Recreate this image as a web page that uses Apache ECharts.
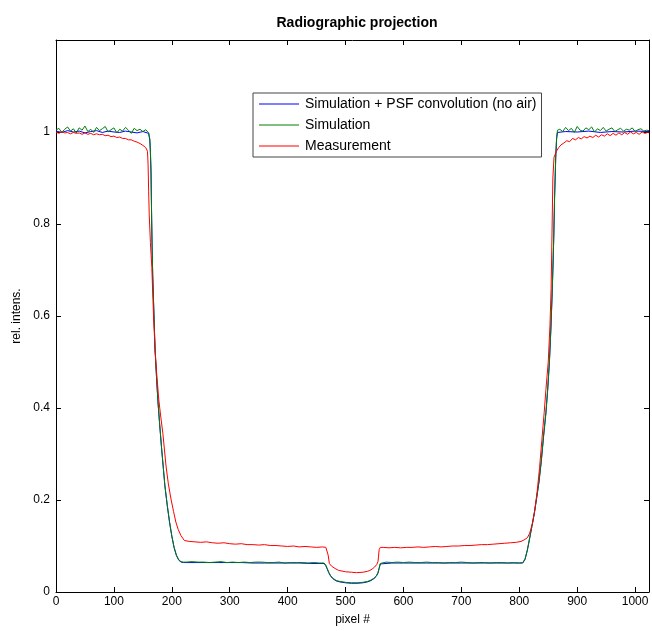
<!DOCTYPE html>
<html>
<head>
<meta charset="utf-8">
<script src="https://cdn.jsdelivr.net/npm/echarts@6/dist/echarts.min.js"></script>
<style>
html,body{margin:0;padding:0;background:#fff;}
#chart{width:652px;height:631px;}
</style>
</head>
<body>
<div id="chart"></div>
<script>
const titleText = "Radiographic projection";
const xName = "pixel #";
const yName = "rel. intens.";
const seriesNames = ["Simulation + PSF convolution (no air)", "Simulation", "Measurement"];
const seriesColors = ["#0000ff", "#008000", "#ff0000"];
const xTicks = [0,100,200,300,400,500,600,700,800,900,1000];
const yTicks = [0,0.2,0.4,0.6,0.8,1];

// Simulation (green)
const greenX = [0,5,10,15,20,25,30,35,40,45,50,55,60,65,70,75,80,85,90,95,100,105,110,115,120,125,130,135,140,145,150,155,160,
  162,163,164,165,166,167,168.5,171,173.5,176,179,182,185,188,192,196,200,204,208,212,216,220,
  225,235,245,255,265,275,285,295,305,315,325,335,345,355,365,375,385,395,405,415,425,435,445,455,463,
  466,468,471,474,478,484,490,500,510,520,530,538,544,549,553,556,558,560,563,
  570,580,590,600,610,620,630,640,650,660,670,680,690,700,710,720,730,740,750,760,770,780,790,800,806,
  810,814,818,822,826,830,834,838,842,846,849,852,854.5,856.5,858,859.5,861,863,864.5,
  866,870,875,880,885,890,895,900,905,910,915,920,925,930,935,940,945,950,955,960,965,970,975,980,985,990,995,1000,1005,1010,1015,1020,1024];
const greenY = [1.004,1.008,0.999,1.006,1.011,1.002,1.007,0.998,1.009,1.004,1.013,1.001,1.006,0.999,1.010,1.003,1.007,1.012,1.000,1.005,1.009,0.998,1.006,1.002,1.010,1.004,0.997,1.008,1.003,1.006,1.001,1.005,0.998,
  0.985,0.960,0.920,0.830,0.750,0.690,0.630,0.530,0.470,0.415,0.365,0.318,0.275,0.232,0.190,0.153,0.122,0.097,0.080,0.070,0.066,0.065,
  0.065,0.066,0.065,0.065,0.064,0.065,0.066,0.064,0.065,0.064,0.065,0.064,0.065,0.065,0.064,0.064,0.065,0.063,0.064,0.064,0.064,0.063,0.064,0.063,0.063,
  0.058,0.052,0.043,0.036,0.030,0.025,0.023,0.021,0.020,0.020,0.021,0.023,0.026,0.030,0.035,0.042,0.052,0.062,0.065,
  0.065,0.064,0.065,0.064,0.065,0.064,0.064,0.065,0.064,0.064,0.063,0.064,0.064,0.065,0.064,0.063,0.064,0.064,0.063,0.064,0.064,0.063,0.064,0.063,0.064,
  0.072,0.092,0.118,0.145,0.172,0.205,0.240,0.285,0.340,0.390,0.440,0.500,0.570,0.640,0.700,0.770,0.860,0.950,0.990,
  1.004,1.006,1.001,1.010,1.003,1.008,0.999,1.012,1.004,1.002,1.009,1.005,1.011,1.000,1.007,1.003,1.010,1.002,1.006,1.009,1.001,1.005,1.008,1.002,1.006,1.004,1.009,1.001,1.005,1.007,1.002,1.004,1.003];

// Simulation + PSF convolution (blue)
const blueX = [0,10,20,30,40,50,60,70,80,90,100,110,120,130,140,150,160,
  162,163,164,165,166,167,168.5,171,173.5,176,179,182,185,188,192,196,200,204,208,212,216,220,
  240,260,280,300,320,340,360,380,400,420,440,463,
  466,468,471,474,478,484,490,500,510,520,530,538,544,549,553,556,558,560,563,
  580,600,620,640,660,680,700,720,740,760,780,800,806,
  810,814,818,822,826,830,834,838,842,846,849,852,854.5,856.5,858,859.5,861,863,864.5,
  866,880,900,920,940,960,980,1000,1024];
const blueY = [1.002,0.999,1.003,1.000,1.002,0.998,1.001,1.003,0.999,1.002,1.000,0.999,1.002,1.000,0.998,1.001,0.997,
  0.982,0.955,0.915,0.825,0.745,0.688,0.628,0.528,0.468,0.414,0.364,0.317,0.274,0.231,0.189,0.152,0.121,0.096,0.079,0.069,0.065,0.064,
  0.064,0.064,0.064,0.064,0.064,0.063,0.063,0.063,0.063,0.063,0.062,0.062,
  0.057,0.051,0.042,0.035,0.029,0.024,0.022,0.020,0.019,0.019,0.020,0.022,0.025,0.029,0.034,0.041,0.051,0.061,0.064,
  0.063,0.063,0.063,0.063,0.063,0.063,0.063,0.063,0.063,0.063,0.063,0.063,0.063,
  0.071,0.091,0.117,0.144,0.171,0.204,0.239,0.284,0.339,0.389,0.439,0.499,0.569,0.639,0.699,0.769,0.858,0.945,0.985,
  0.999,1.001,1.000,1.002,0.999,1.001,1.000,1.002,1.001];

// Measurement (red)
const redX = [0,5,10,15,20,25,30,35,40,45,50,55,60,65,70,75,80,85,90,95,100,105,110,115,120,125,130,135,140,145,150,155,158,
  159,160,161,163,165.5,168.5,171,173,177.5,181,184.5,190,194,198.6,203,207,211,215.6,221.6,230,
  240,250,260,270,280,290,300,310,320,330,340,350,360,370,380,390,400,410,420,430,440,450,460,466,
  468,470,472,476,482,488,500,510,519,530,538,542,546,550,554,556,557,558,560,
  565,575,585,595,605,615,625,635,645,655,665,675,685,695,705,715,725,735,745,755,765,775,785,795,803,
  808,814,818,823,827,831,835,839,843,846,850,853,855,856.5,858,860,
  864,868,872,877,882,887,892,897,902,907,912,917,922,927,932,937,942,947,952,957,962,967,972,977,982,987,992,997,1002,1007,1012,1017,1022,1024];
const redY = [1.000,0.997,1.001,0.998,0.999,0.996,0.999,0.997,0.998,0.995,0.998,0.995,0.997,0.994,0.996,0.994,0.995,0.992,0.993,0.990,0.991,0.988,0.989,0.986,0.986,0.983,0.983,0.980,0.978,0.975,0.971,0.966,0.958,
  0.930,0.870,0.820,0.760,0.705,0.597,0.530,0.489,0.418,0.380,0.345,0.274,0.235,0.202,0.175,0.152,0.136,0.123,0.112,0.110,
  0.109,0.108,0.109,0.107,0.106,0.107,0.105,0.104,0.105,0.103,0.103,0.102,0.103,0.101,0.101,0.100,0.099,0.100,0.098,0.099,0.098,0.097,0.098,0.097,
  0.095,0.080,0.062,0.056,0.051,0.047,0.044,0.043,0.042,0.043,0.045,0.047,0.050,0.054,0.060,0.066,0.078,0.092,0.097,
  0.097,0.096,0.097,0.096,0.097,0.097,0.098,0.097,0.098,0.099,0.098,0.099,0.100,0.100,0.101,0.101,0.102,0.103,0.103,0.104,0.105,0.106,0.107,0.108,0.110,
  0.113,0.118,0.128,0.150,0.180,0.220,0.270,0.330,0.390,0.440,0.500,0.580,0.660,0.780,0.900,0.945,
  0.958,0.966,0.972,0.976,0.981,0.979,0.986,0.983,0.988,0.985,0.990,0.987,0.991,0.988,0.993,0.989,0.994,0.991,0.996,0.992,0.997,0.993,0.998,0.994,0.999,0.995,1.000,0.996,0.999,0.995,1.000,0.997,0.999,0.998];

function zip(xs, ys){ return xs.map((x,i)=>[x, ys[i]]); }

const FONT = "Liberation Sans, Arial, Helvetica, sans-serif";
const chart = echarts.init(document.getElementById('chart'), null, {renderer:'canvas'});

const axisLineStyle = {color:'#000', width:1};
const xData = [blueX, greenX, redX];
const yData = [blueY, greenY, redY];
chart.setOption({
  animation:false,
  backgroundColor:'#fff',
  color:seriesColors,
  title:{text:titleText, left:352, top:11, textAlign:'center',
    textStyle:{fontFamily:FONT, fontSize:14, fontWeight:'bold', color:'#000'}},
  legend:{
    data:seriesNames.map((n,i)=>({name:n, itemStyle:{color:seriesColors[i]}})),
    orient:'vertical', left:253, top:93,
    icon:'rect', itemWidth:40, itemHeight:1.2, itemGap:7,
    backgroundColor:'#fff', borderColor:'#444', borderWidth:1,
    padding:[4,5,4,6],
    textStyle:{fontFamily:FONT, fontSize:14, color:'#000', padding:[0,0,0,1]}
  },
  grid:{left:56, right:1, top:40, bottom:34, containLabel:false},
  xAxis:[
    {type:'value', min:0, max:1024, interval:100, position:'bottom',
     name:xName, nameLocation:'middle', nameGap:22,
     nameTextStyle:{fontFamily:FONT, fontSize:12, color:'#000'},
     axisLine:{show:true, onZero:false, lineStyle:axisLineStyle},
     axisTick:{show:true, inside:true, length:5, lineStyle:axisLineStyle},
     axisLabel:{fontFamily:FONT, fontSize:12, color:'#000', margin:4,
       formatter:(v)=> xTicks.indexOf(v) >= 0 ? String(v) : ''},
     splitLine:{show:false}},
    {type:'value', min:0, max:1024, interval:100, position:'top',
     axisLine:{show:true, onZero:false, lineStyle:axisLineStyle},
     axisTick:{show:true, inside:true, length:5, lineStyle:axisLineStyle},
     axisLabel:{show:false}, splitLine:{show:false}}
  ],
  yAxis:[
    {type:'value', min:0, max:1.2, interval:0.2, position:'left',
     name:yName, nameLocation:'middle', nameGap:28, nameRotate:90,
     nameTextStyle:{fontFamily:FONT, fontSize:12, color:'#000'},
     axisLine:{show:true, onZero:false, lineStyle:axisLineStyle},
     axisTick:{show:true, inside:true, length:5, lineStyle:axisLineStyle},
     axisLabel:{fontFamily:FONT, fontSize:12, color:'#000', margin:6,
       formatter:(v)=>{ const r = Math.round(v*10)/10; return yTicks.indexOf(r) >= 0 && Math.abs(v-r)<1e-6 ? String(r) : ''; }},
     splitLine:{show:false}},
    {type:'value', min:0, max:1.2, interval:0.2, position:'right',
     axisLine:{show:true, onZero:false, lineStyle:axisLineStyle},
     axisTick:{show:true, inside:true, length:5, lineStyle:axisLineStyle},
     axisLabel:{show:false}, splitLine:{show:false}}
  ],
  series:seriesNames.map((n,i)=>({
    name:n, type:'line', data:zip(xData[i], yData[i]), showSymbol:false, symbol:'none',
    color:seriesColors[i],
    lineStyle:{color:seriesColors[i], width:1}, itemStyle:{color:seriesColors[i]}, z:2+i
  }))
});
</script>
</body>
</html>
